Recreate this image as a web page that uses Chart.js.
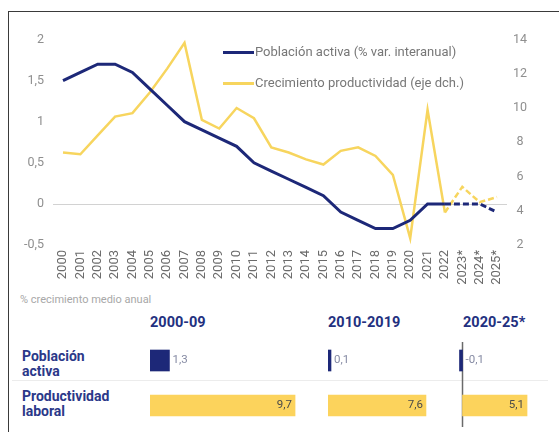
<!DOCTYPE html>
<html>
<head>
<meta charset="utf-8">
<script src="https://cdn.jsdelivr.net/npm/chart.js@4.4.0/dist/chart.umd.min.js"></script>
<style>
body{margin:0;width:559px;height:432px;background:#fff;position:relative;overflow:hidden;font-family:Roboto,"Noto Sans",sans-serif;}
#frame{position:absolute;left:8px;top:11px;width:600px;height:500px;border-left:1.5px solid #3a3a3a;border-top:1.5px solid #3a3a3a;}
#top{position:absolute;left:10px;top:13px;}
#note{position:absolute;left:20px;top:293px;font-size:11px;line-height:14px;color:#a8a8a8;}
.hdr{position:absolute;top:314px;font-size:14.5px;line-height:18px;font-weight:bold;color:#23307f;white-space:nowrap;}
.row{position:absolute;left:22px;font-size:14px;line-height:15px;font-weight:bold;color:#2b3889;}
#sep{position:absolute;left:12px;top:380px;width:536px;height:1px;background:#ececec;}
.col{position:absolute;top:338px;}
</style>
</head>
<body>
<div id="frame"></div>
<canvas id="top" width="549" height="280"></canvas>
<div id="note">% crecimiento medio anual</div>
<div id="sep"></div>
<div id="rows"></div>
<div id="cols"></div>
<script>
// serie anual
var years = ['2000','2001','2002','2003','2004','2005','2006','2007','2008','2009','2010','2011','2012',
  '2013','2014','2015','2016','2017','2018','2019','2020','2021','2022','2023*','2024*','2025*'];
var poblacionActiva = [1.5,1.6,1.7,1.7,1.6,1.4,1.2,1.0,0.9,0.8,0.7,0.5,0.4,
  0.3,0.2,0.1,-0.1,-0.2,-0.3,-0.3,-0.2,0,0,0,0,-0.1];
var productividad = [7.4,7.3,8.4,9.5,9.7,10.9,12.3,13.8,9.3,8.8,10.0,9.4,7.7,
  7.4,7.0,6.7,7.5,7.7,7.2,6.1,2.4,9.9,3.9,5.4,4.5,4.8];
var forecastFrom = 22;

// medias por periodo
var periods = ['2000-09','2010-2019','2020-25*'];
var avgPoblacion = [1.3, 0.1, -0.1];
var avgProductividad = [9.7, 7.6, 5.1];
var rowLabels = [['Población','activa'],['Productividad','laboral']];

var navy = '#1d2878';
var yellow = '#f7d55e';
var barYellow = '#fcd35c';
var fmt = function(v){ return String(v).replace('.', ','); };

var zeroLine = {
  id: 'zeroLine',
  beforeDatasetsDraw: function(chart){
    var a = chart.chartArea, c = chart.ctx;
    var y = Math.round(chart.scales.y.getPixelForValue(0)) + 0.5;
    c.save();
    c.strokeStyle = '#d2d2d2'; c.lineWidth = 1;
    c.beginPath(); c.moveTo(a.left - 10, y); c.lineTo(a.right + 10, y); c.stroke();
    c.restore();
  }
};

var insideLegend = {
  id: 'insideLegend',
  afterDraw: function(chart){
    var a = chart.chartArea, c = chart.ctx;
    c.save();
    c.font = '13px Roboto';
    c.textBaseline = 'middle';
    chart.data.datasets.forEach(function(ds, i){
      var x = a.left + 160, y = a.top + 13 + i * 31;
      c.strokeStyle = ds.borderColor; c.lineWidth = 3;
      c.beginPath(); c.moveTo(x, y); c.lineTo(x + 31, y); c.stroke();
      c.fillStyle = '#777'; c.textAlign = 'left';
      c.fillText(ds.label, x + 32, y);
    });
    c.restore();
  }
};

var dashed = function(ctx){ return ctx.p0DataIndex >= forecastFrom ? [6, 3] : undefined; };

new Chart(document.getElementById('top'), {
  type: 'line',
  data: {
    labels: years,
    datasets: [
      {label: 'Población activa (% var. interanual)', data: poblacionActiva, yAxisID: 'y',
       borderColor: navy, borderWidth: 3, pointRadius: 0, segment: {borderDash: dashed}},
      {label: 'Crecimiento productividad (eje dch.)', data: productividad, yAxisID: 'y1',
       borderColor: yellow, borderWidth: 2.5, pointRadius: 0, segment: {borderDash: dashed}}
    ]
  },
  options: {
    responsive: false,
    animation: false,
    layout: {padding: {top: 19, left: 0, right: 0, bottom: 0}},
    plugins: {legend: {display: false}, tooltip: {enabled: false}},
    scales: {
      x: {
        grid: {display: false, drawTicks: false}, border: {display: false},
        ticks: {minRotation: 90, maxRotation: 90, autoSkip: false, padding: 5,
                color: '#6b6b6b', font: {family: 'Roboto', size: 13}},
        afterFit: function(s){ s.height = 48; }
      },
      y: {
        position: 'left', min: -0.5, max: 2,
        grid: {display: false, drawTicks: false}, border: {display: false},
        ticks: {stepSize: 0.5, padding: 19, callback: fmt, color: '#8f8f8f', font: {family: 'Roboto', size: 12.5}},
        afterFit: function(s){ s.width = 53; }
      },
      y1: {
        position: 'right', min: 2, max: 14,
        grid: {display: false, drawTicks: false}, border: {display: false},
        ticks: {stepSize: 2, padding: 16, crossAlign: 'center', color: '#8f8f8f', font: {family: 'Roboto', size: 12.5}},
        afterFit: function(s){ s.width = 62; }
      }
    }
  },
  plugins: [zeroLine, insideLegend]
});

// filas
rowLabels.forEach(function(r, i){
  var d = document.createElement('div');
  d.className = 'row';
  d.style.top = (349 + i * 40) + 'px';
  d.innerHTML = r.join('<br>');
  document.getElementById('rows').appendChild(d);
});

var barLabels = {
  id: 'barLabels',
  afterDatasetsDraw: function(chart){
    var c = chart.ctx;
    c.save();
    c.font = '11.5px Roboto';
    c.textBaseline = 'middle';
    chart.data.datasets.forEach(function(ds, di){
      chart.getDatasetMeta(di).data.forEach(function(bar, j){
        var v = ds.data[j];
        if (v === null) return;
        if (di === 0) {
          c.textAlign = 'left'; c.fillStyle = '#858aa3';
          c.fillText(fmt(v), Math.max(bar.x, bar.base) + 3, bar.y);
        } else {
          c.textAlign = 'right'; c.fillStyle = '#4a4a4a';
          c.fillText(fmt(v), bar.x - 3, bar.y);
        }
      });
    });
    c.restore();
  }
};

var axisZero = {
  id: 'axisZero',
  beforeDatasetsDraw: function(chart, args, opts){
    if (!opts.show) return;
    var a = chart.chartArea, c = chart.ctx;
    var x = chart.scales.x.getPixelForValue(0);
    c.save();
    c.strokeStyle = '#6a6a6a'; c.lineWidth = 1.5;
    c.beginPath(); c.moveTo(x, a.top + 4); c.lineTo(x, a.bottom - 1); c.stroke();
    c.restore();
  }
};

// cada columna lleva su propia escala
var colLayout = [
  {left: 150, width: 160, min: 0, max: 10.7, zero: false},
  {left: 328, width: 120, min: 0, max: 9.31, zero: false},
  {left: 455, width: 90, min: -0.593, max: 6.52, zero: true}
];

periods.forEach(function(p, k){
  var L = colLayout[k];
  var cv = document.createElement('canvas');
  cv.className = 'col';
  cv.width = L.width; cv.height = 90;
  cv.style.left = L.left + 'px';
  document.getElementById('cols').appendChild(cv);
  var ch = new Chart(cv, {
    type: 'bar',
    data: {
      labels: ['Población activa', 'Productividad laboral'],
      datasets: [
        {data: [avgPoblacion[k], null], backgroundColor: navy, barThickness: 21, minBarLength: 3},
        {data: [null, avgProductividad[k]], backgroundColor: barYellow, barThickness: 21}
      ]
    },
    options: {
      indexAxis: 'y',
      responsive: false,
      animation: false,
      grouped: false,
      layout: {padding: 0},
      plugins: {legend: {display: false}, tooltip: {enabled: false}, axisZero: {show: L.zero}},
      scales: {
        x: {display: false, min: L.min, max: L.max},
        y: {display: false}
      }
    },
    plugins: [axisZero, barLabels]
  });
  var h = document.createElement('div');
  h.className = 'hdr';
  h.textContent = p;
  h.style.left = Math.round(L.left + ch.scales.x.getPixelForValue(0)) + 'px';
  document.getElementById('cols').appendChild(h);
});
</script>
</body>
</html>
